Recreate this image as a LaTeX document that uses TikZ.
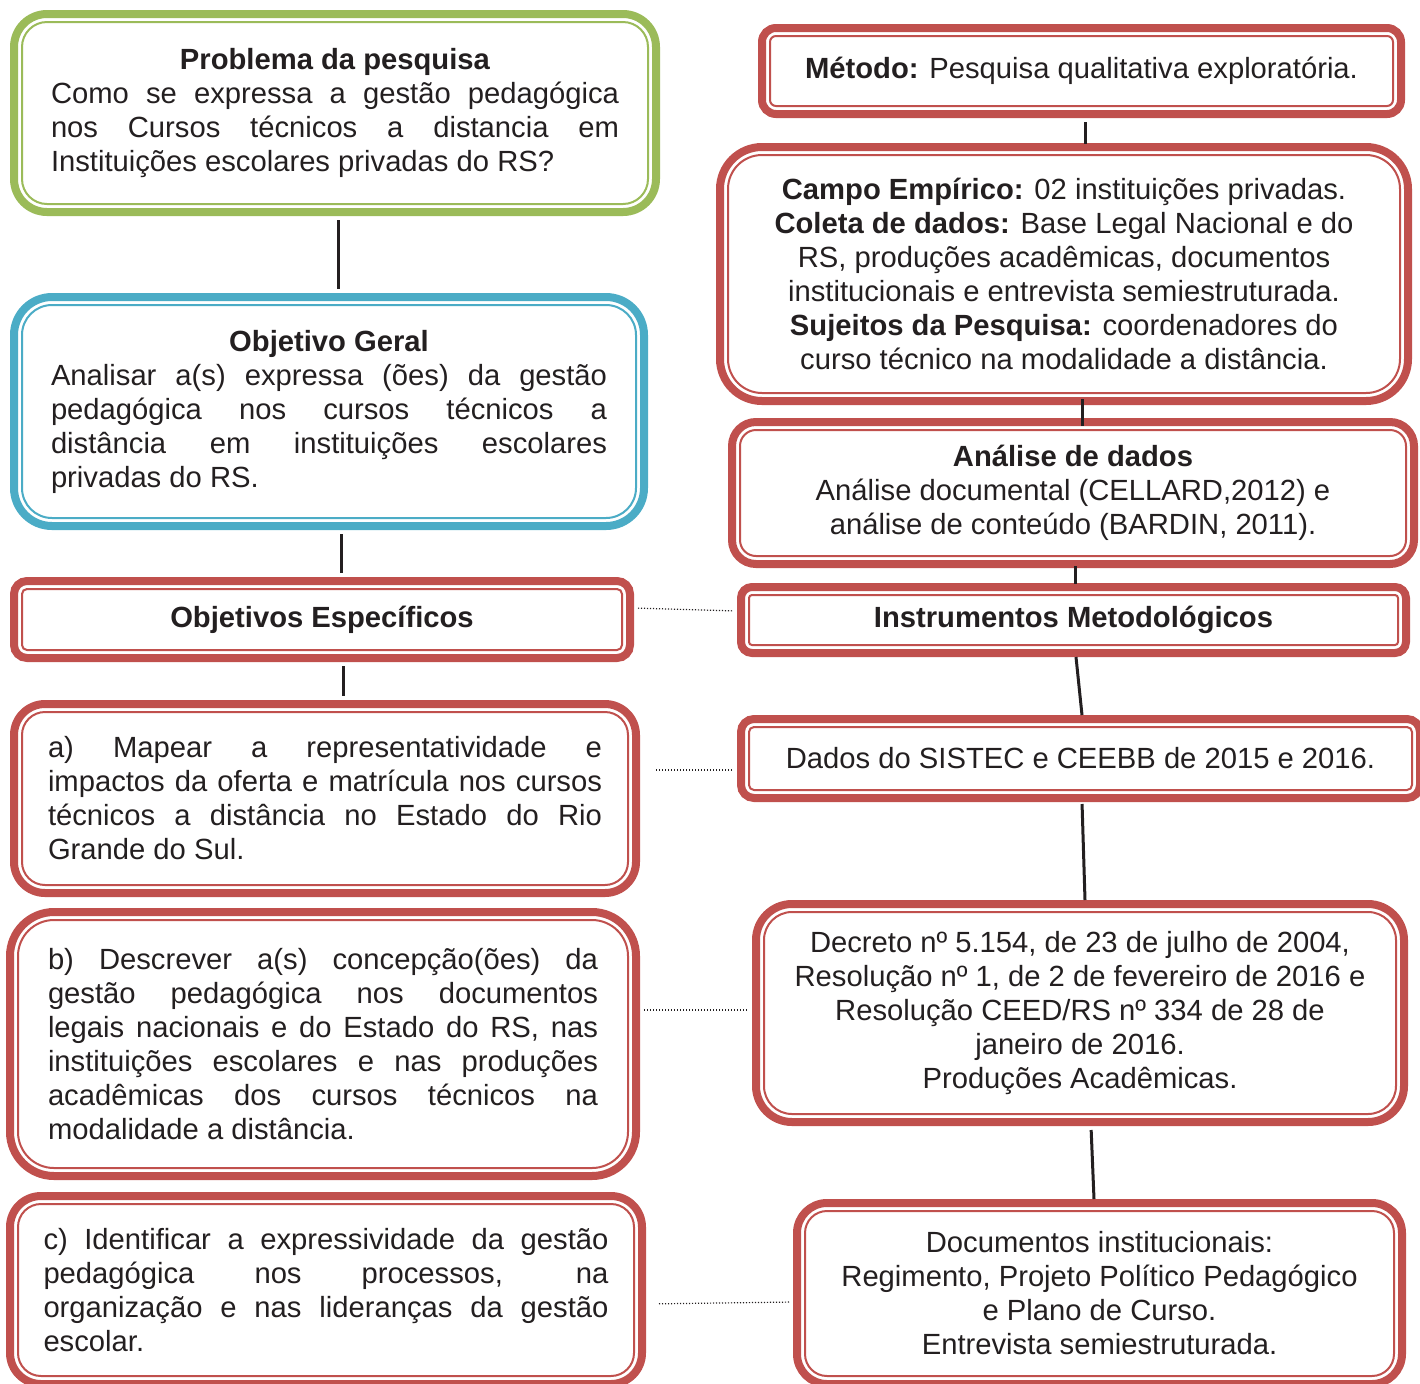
\documentclass[tikz,border=0pt]{standalone}
\usepackage{fontspec}
\setmainfont{Liberation Sans}
\usepackage{tikz}

\definecolor{boxred}{HTML}{C0504D}
\definecolor{boxgreen}{HTML}{9BBB59}
\definecolor{boxblue}{HTML}{4BACC6}
\definecolor{inkdark}{HTML}{231F20}

\begin{document}
\begin{tikzpicture}
  [x=0.5pt, y=-0.5pt,
    font=\fontsize{14.6}{17}\selectfont,
    block/.style 2 args={
        rectangle,
        draw=#1,
        line width=4pt,
        fill=white,
        rounded corners=#2,
        inner sep=0pt,
        text=inkdark,
        path picture={\draw[#1, line width=1pt, rounded corners=#2-4pt]
          ([shift={(4pt,4pt)}]path picture bounding box.south west) rectangle
          ([shift={(-4pt,-4pt)}]path picture bounding box.north east);},
      },
    link/.style={draw=inkdark, line width=1.5pt},
    dotlink/.style={draw=inkdark, line width=0.6pt, dash pattern=on 0.6pt off 0.9pt},
  ]
  \useasboundingbox (0,0) rectangle (1420,1383);
  \clip (0,0) rectangle (1420,1383);

  % left column
  \node[block={boxgreen}{16.5pt}, minimum width=321pt, minimum height=99pt, text width=284pt, align=justify] (prob) at (335,113)
    {\makebox[\linewidth]{\textbf{Problema da pesquisa}}\\
     Como se expressa a gestão pedagógica\linebreak
     nos Cursos técnicos a distancia em\linebreak
     Instituições escolares privadas do RS?};
  \node[block={boxblue}{19pt}, minimum width=315pt, minimum height=114.5pt, text width=278pt, align=justify] (geral) at (329,411.5)
    {\makebox[\linewidth]{\textbf{Objetivo Geral}}\\
     Analisar a(s) expressa (ões) da gestão\linebreak
     pedagógica nos cursos técnicos a\linebreak
     distância em instituições escolares\linebreak
     privadas do RS.};
  \node[block={boxred}{6.5pt}, minimum width=308pt, minimum height=38.5pt, align=center] (esp) at (322,619.5)
    {\textbf{Objetivos Específicos}};
  \node[block={boxred}{15.5pt}, minimum width=311pt, minimum height=94.5pt, text width=277pt, align=justify] (obja) at (325,798.5)
    {a) Mapear a representatividade e\linebreak
     impactos da oferta e matrícula nos cursos\linebreak
     técnicos a distância no Estado do Rio\linebreak
     Grande do Sul.};
  \node[block={boxred}{22pt}, minimum width=313pt, minimum height=132pt, text width=275pt, align=justify] (objb) at (323,1044)
    {b) Descrever a(s) concepção(ões) da\linebreak
     gestão pedagógica nos documentos\linebreak
     legais nacionais e do Estado do RS, nas\linebreak
     instituições escolares e nas produções\linebreak
     acadêmicas dos cursos técnicos na\linebreak
     modalidade a distância.};
  \node[block={boxred}{15.5pt}, minimum width=316pt, minimum height=94pt, text width=282.5pt, align=justify] (objc) at (326,1290)
    {c) Identificar a expressividade da gestão\linebreak
     pedagógica nos processos, na\linebreak
     organização e nas lideranças da gestão\linebreak
     escolar.};

  % right column
  \node[block={boxred}{7pt}, minimum width=319.5pt, minimum height=43pt, align=center] (metodo) at (1081.5,71)
    {\textbf{Método:} Pesquisa qualitativa exploratória.};
  \node[block={boxred}{21pt}, minimum width=344pt, minimum height=127pt, align=center] (campo) at (1064,274)
    {\textbf{Campo Empírico:} 02 instituições privadas.\\
     \textbf{Coleta de dados:} Base Legal Nacional e do\\
     RS, produções acadêmicas, documentos\\
     institucionais e entrevista semiestruturada.\\
     \textbf{Sujeitos da Pesquisa:} coordenadores do\\
     curso técnico na modalidade a distância.};
  \node[block={boxred}{12pt}, minimum width=341pt, minimum height=71pt, align=center] (analise) at (1073,493)
    {\textbf{Análise de dados}\\
     Análise documental (CELLARD,2012) e\\
     análise de conteúdo (BARDIN, 2011).};
  \node[block={boxred}{5.5pt}, minimum width=332.5pt, minimum height=33pt, align=center] (instr) at (1073.5,620)
    {\textbf{Instrumentos Metodológicos}};
  \node[block={boxred}{6.5pt}, minimum width=339.5pt, minimum height=39.5pt, align=center] (dados) at (1080.5,758.5)
    {Dados do SISTEC e CEEBB de 2015 e 2016.};
  \node[block={boxred}{18pt}, minimum width=324pt, minimum height=109pt, align=center] (decreto) at (1080,1013)
    {Decreto nº 5.154, de 23 de julho de 2004,\\
     Resolução nº 1, de 2 de fevereiro de 2016 e\\
     Resolução CEED/RS nº 334 de 28 de\\
     janeiro de 2016.\\
     Produções Acadêmicas.};
  \node[block={boxred}{15pt}, minimum width=302.5pt, minimum height=90.5pt, align=center] (docs) at (1099.5,1293.5)
    {Documentos institucionais:\\
     Regimento, Projeto Político Pedagógico\\
     e Plano de Curso.\\
     Entrevista semiestruturada.};

  \draw[link, shorten <=2pt, shorten >=2pt] ([xshift=1.5pt]prob.south) -- ([xshift=4.5pt]geral.north);
  \draw[link, shorten <=2pt, shorten >=2pt] ([xshift=6pt]geral.south) -- ([xshift=9.5pt]esp.north);
  \draw[link, shorten <=2pt, shorten >=2pt] ([xshift=10.5pt]esp.south) -- ([xshift=9pt]obja.north);

  \draw[link, shorten <=2pt, shorten >=-0.5pt] ([xshift=1.75pt]metodo.south) -- ([xshift=10.5pt]campo.north);
  \draw[link, shorten <=-3pt, shorten >=-4pt] ([xshift=9pt]campo.south) -- ([xshift=4.5pt]analise.north);
  \draw[link, shorten <=-1pt, shorten >=-0.5pt] ([xshift=1pt]analise.south) -- ([xshift=0.75pt]instr.north);
  \draw[link, shorten <=0pt, shorten >=0pt] ([xshift=1.25pt]instr.south) -- ([xshift=0.75pt]dados.north);
  \draw[link, shorten <=1pt, shorten >=0pt] ([xshift=0.75pt]dados.south) -- ([xshift=2.5pt]decreto.north);
  \draw[link, shorten <=2pt, shorten >=0pt] ([xshift=5.5pt]decreto.south) -- ([xshift=-2.75pt]docs.north);

  \draw[dotlink, shorten <=2pt, shorten >=2pt] ([yshift=5.75pt]esp.east) -- ([yshift=4.5pt]instr.west);
  \draw[dotlink, shorten <=8pt, shorten >=2pt] ([yshift=14.25pt]obja.east) -- ([yshift=-5.75pt]dados.west);
  \draw[dotlink, shorten <=2pt, shorten >=2pt] ([yshift=17pt]objb.east) -- ([yshift=1.5pt]decreto.west);
  \draw[dotlink, shorten <=6.5pt, shorten >=2pt] ([yshift=-7pt]objc.east) -- ([yshift=-4.25pt]docs.west);
\end{tikzpicture}
\end{document}
